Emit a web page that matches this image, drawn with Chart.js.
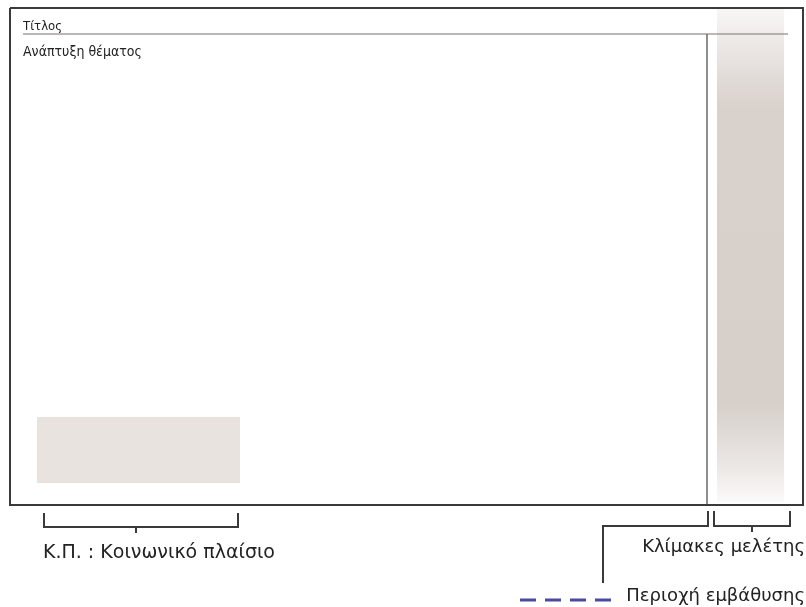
<!DOCTYPE html>
<html>
<head>
<meta charset="utf-8">
<script src="https://cdn.jsdelivr.net/npm/chart.js@4/dist/chart.umd.min.js"></script>
<style>
  body { margin: 0; background: #fff; }
  #wrap { width: 806px; height: 607px; }
</style>
</head>
<body>
<div id="wrap"><canvas id="chart"></canvas></div>
<script>
// diagram points on an 806 x 607 grid (y grows downwards)
const frame = [[10, 8], [803, 8], [803, 505], [10, 505], [10, 8]];
const titleRule = [[23, 34], [788, 34]];
const divider = [[707, 34], [707, 505]];
const scaleBand = [[717, 9], [784, 9]];
const scaleBandBottom = 502;
const contextBox = [[37, 417], [240, 417]];
const contextBoxBottom = 483;
const bracketContext = [[44, 513], [44, 527], [238, 527], [238, 513]];
const tickContext = [[136, 527], [136, 533]];
const bracketScales = [[714, 511], [714, 526], [790, 526], [790, 511]];
const tickScales = [[752, 526], [752, 532]];
const leader = [[708, 511], [708, 526], [603, 526], [603, 583]];
const depthDash = [[520, 600], [612, 600]];

const labels = ['Τίτλος', 'Ανάπτυξη θέματος', 'Κ.Π. : Κοινωνικό πλαίσιο', 'Κλίμακες μελέτης', 'Περιοχή εμβάθυσης'];
const labelPos = [[23, 30], [23, 56], [43, 558], [805, 552], [805, 601]];
const labelSize = [13, 14, 19, 18, 18];
const labelFont = ['"DejaVu Sans Condensed", "DejaVu Sans"', '"DejaVu Sans Condensed", "DejaVu Sans"', '"DejaVu Sans"', '"DejaVu Sans"', '"DejaVu Sans"'];
const labelAlign = ['left', 'left', 'left', 'right', 'right'];

const pts = arr => arr.map(p => ({ x: p[0], y: p[1] }));

function line(data, color, width, extra) {
  return Object.assign({
    data: pts(data),
    showLine: true,
    borderColor: color,
    borderWidth: width,
    pointRadius: 0,
    tension: 0,
    fill: false
  }, extra || {});
}

function bandGradient(ctx) {
  const chart = ctx.chart;
  if (!chart.chartArea) return '#d6cfca';
  const y = chart.scales.y;
  const g = chart.ctx.createLinearGradient(0, y.getPixelForValue(scaleBand[0][1]), 0, y.getPixelForValue(scaleBandBottom));
  g.addColorStop(0, '#f8f6f5');
  g.addColorStop(0.06, '#eeeae8');
  g.addColorStop(0.2, '#d8d1cc');
  g.addColorStop(0.8, '#d6cfca');
  g.addColorStop(0.94, '#eeeae8');
  g.addColorStop(1, '#fbfafa');
  return g;
}

const textPlugin = {
  id: 'diagramText',
  afterDatasetsDraw(chart) {
    const c = chart.ctx;
    const sx = chart.scales.x, sy = chart.scales.y;
    c.save();
    c.fillStyle = '#222';
    c.textBaseline = 'alphabetic';
    labels.forEach((t, i) => {
      c.font = labelSize[i] + 'px ' + labelFont[i];
      c.textAlign = labelAlign[i];
      c.fillText(t, sx.getPixelForValue(labelPos[i][0]), sy.getPixelForValue(labelPos[i][1]));
    });
    c.restore();
  }
};

new Chart(document.getElementById('chart'), {
  type: 'scatter',
  data: {
    datasets: [
      line(frame, '#3a3a3a', 2),
      line(titleRule, '#7a7070', 1.2),
      line(divider, '#6a6a6a', 1.5),
      line(bracketContext, '#3a3a3a', 2),
      line(tickContext, '#3a3a3a', 2),
      line(bracketScales, '#3a3a3a', 2),
      line(tickScales, '#3a3a3a', 2),
      line(leader, '#3a3a3a', 2),
      line(depthDash, '#4b4b9e', 3, { borderDash: [16, 9] }),
      line(contextBox, 'transparent', 0, { fill: { value: contextBoxBottom }, backgroundColor: '#e9e3e0' }),
      line(scaleBand, 'transparent', 0, { fill: { value: scaleBandBottom }, backgroundColor: bandGradient })
    ]
  },
  options: {
    responsive: true,
    maintainAspectRatio: false,
    animation: false,
    layout: { padding: 0 },
    plugins: { legend: { display: false }, tooltip: { enabled: false } },
    scales: {
      x: { type: 'linear', min: 0, max: 806, display: false },
      y: { type: 'linear', min: 0, max: 607, reverse: true, display: false }
    }
  },
  plugins: [textPlugin]
});
</script>
</body>
</html>
